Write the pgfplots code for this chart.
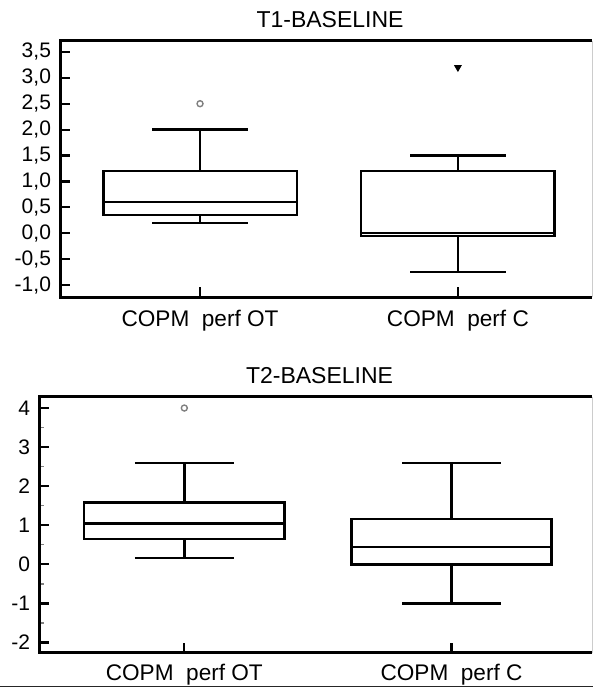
\documentclass[border=0pt]{standalone}
\usepackage{pgfplots}
\pgfplotsset{compat=1.18}
\usepgfplotslibrary{statistics}
\usepackage{fontspec}
\setmainfont{Liberation Sans}

\pgfplotsset{
  cmn/.style={
    scale only axis, clip=false,
    axis line style={draw=none},
    xtick={1,2}, xticklabels={COPM\ \ perf OT, COPM\ \ perf C},
    tick pos=left, tick align=inside,
    major tick length=5pt,
    tick style={line width=1.1pt, black},
    yticklabel style={font=\fontsize{10.5}{11}\selectfont, xshift=-1pt},
    xticklabel style={font=\fontsize{11.3}{13}\selectfont, yshift=-3pt},
    title style={font=\fontsize{11.5}{13}\selectfont, xshift=2pt, yshift=-3pt},
    /pgf/number format/assume math mode=true,
    boxplot/draw direction=y,
    boxplot/box extend=0.75, boxplot/whisker extend=0.37,
  },
  bx/.style={black, line width=1.2pt, solid},
}

\begin{document}
\begin{tikzpicture}
\useasboundingbox (0pt,0pt) rectangle (296.5pt,-344.5pt);

% T1 - baseline
\begin{axis}[cmn,
  at={(30pt,-20.5pt)}, anchor=north west,
  width=266pt, height=128pt,
  xmin=0.457, xmax=2.52,
  ymin=-1.23, ymax=3.71,
  ytick={-1,-0.5,...,3.5},
  yticklabel style={/pgf/number format/.cd, fixed, fixed zerofill, precision=1, use comma},
  title={T1-BASELINE},
]
\addplot[bx, boxplot prepared={draw position=1,
  lower whisker=0.2, lower quartile=0.35, median=0.6,
  upper quartile=1.2, upper whisker=2.0},
  mark=o, mark options={gray, line width=0.7pt, mark size=1.5pt}]
  table[row sep=\\, y index=0] {2.5\\};
\addplot[bx, boxplot prepared={draw position=2,
  lower whisker=-0.75, lower quartile=-0.05, median=0.0,
  upper quartile=1.2, upper whisker=1.5},
  mark=triangle*, mark options={black, fill=black, rotate=180, mark size=1.8pt, line width=0.5pt}]
  table[row sep=\\, y index=0] {3.2\\};
\draw[line width=1.5pt] (rel axis cs:1,0) -- (rel axis cs:0,0) -- (rel axis cs:0,1) -- (rel axis cs:1,1);
\draw[gray!40, line width=0.5pt] (rel axis cs:1,0) -- (rel axis cs:1,1);
\end{axis}

% T2 - baseline
\begin{axis}[cmn,
  at={(19.5pt,-198.35pt)}, anchor=north west,
  width=276.5pt, height=128pt,
  xmin=0.456, xmax=2.526,
  ymin=-2.26, ymax=4.29,
  ytick={-2,-1,...,4},
  minor y tick num=1, minor tick length=2.5pt,
  minor tick style={line width=0.6pt, gray},
  xticklabel style={yshift=1pt},
  title={T2-BASELINE},
]
\addplot[bx, boxplot prepared={draw position=1,
  lower whisker=0.17, lower quartile=0.65, median=1.05,
  upper quartile=1.58, upper whisker=2.6},
  mark=o, mark options={gray, line width=0.7pt, mark size=1.5pt}]
  table[row sep=\\, y index=0] {4.0\\};
\addplot[bx, boxplot prepared={draw position=2,
  lower whisker=-1.0, lower quartile=0.0, median=0.44,
  upper quartile=1.16, upper whisker=2.6}]
  coordinates {};
\draw[line width=1.5pt] (rel axis cs:1,0) -- (rel axis cs:0,0) -- (rel axis cs:0,1) -- (rel axis cs:1,1);
\draw[gray!40, line width=0.5pt] (rel axis cs:1,0) -- (rel axis cs:1,1);
\end{axis}

\draw[line width=0.8pt, black!85] (0pt,-343.3pt) -- (296.5pt,-343.3pt);
\end{tikzpicture}
\end{document}
